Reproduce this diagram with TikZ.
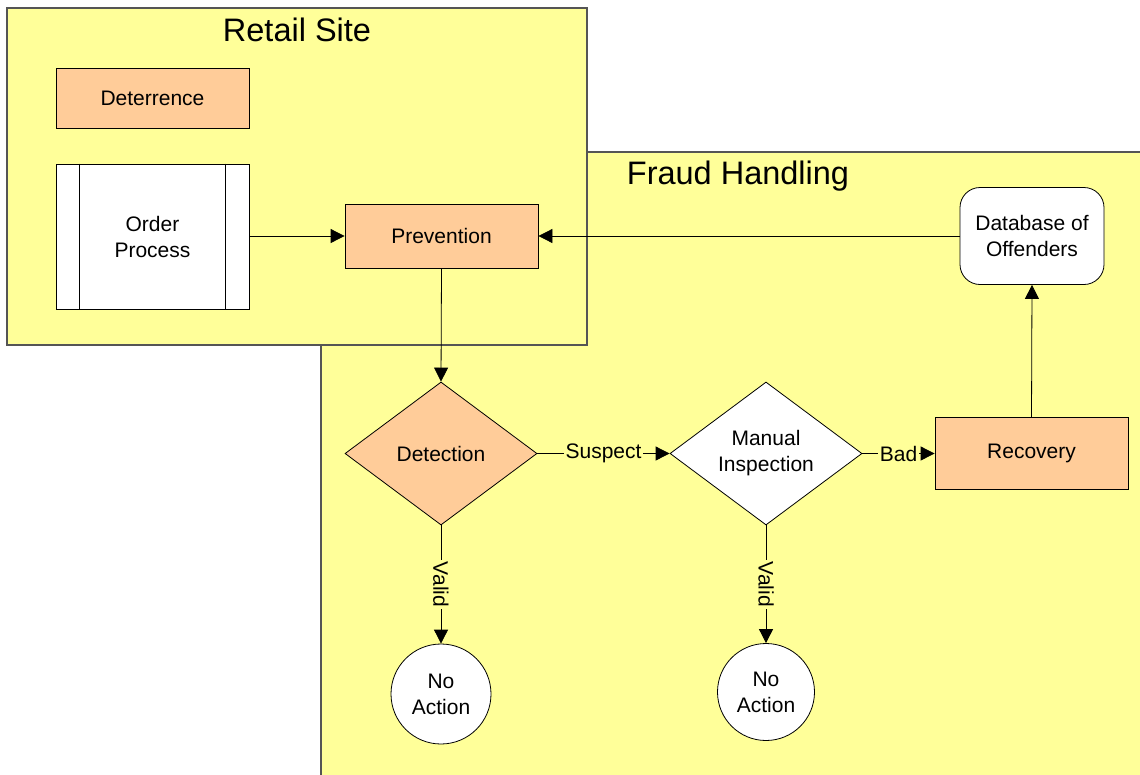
\documentclass[tikz,border=0pt]{standalone}
\usepackage{fontspec}
\setmainfont{Liberation Sans}
\usetikzlibrary{shapes.geometric,arrows.meta}
\definecolor{bgyellow}{HTML}{FFFF99}
\definecolor{boxorange}{HTML}{FFCC99}
\definecolor{frame}{HTML}{555555}
\tikzset{
  lbl/.style={font=\fontsize{21}{26}\selectfont, align=center},
  ttl/.style={font=\fontsize{32.5}{38}\selectfont},
  orangebox/.style={lbl, draw=black, line width=0.8pt, fill=boxorange, inner sep=0pt},
  whitebox/.style={lbl, draw=black, line width=0.8pt, fill=white, inner sep=0pt},
  decision/.style={lbl, diamond, draw=black, line width=0.8pt, inner sep=0pt, minimum width=192pt, minimum height=143pt},
  endcircle/.style={lbl, circle, draw=black, line width=0.8pt, fill=white, inner sep=0pt},
  conn/.style={draw=black, line width=0.8pt, -{Triangle[length=14pt,width=14pt]}},
  edgelbl/.style={lbl, fill=bgyellow, inner sep=2pt}
}
\begin{document}
\begin{tikzpicture}[x=1pt,y=-1pt]
\useasboundingbox (0,0) rectangle (1140,774);
\fill[white] (0,0) rectangle (1140,774);
% Fraud Handling container
\fill[bgyellow] (321,152) rectangle (1141,775);
\draw[frame, line width=1.2pt] (1141,152) -- (321,152) -- (321,775);
\node[ttl] (fhtitle) at (738,176) {Fraud Handling};
% Retail Site container
\filldraw[fill=bgyellow, draw=frame, line width=1.2pt] (7,8) rectangle (587,345);
\node[ttl] (rstitle) at (297,30) {Retail Site};
% Nodes
\node[orangebox, minimum width=193pt, minimum height=60pt] (det) at (152.5,98) {Deterrence};
\node[whitebox, minimum width=193pt, minimum height=145pt] (op) at (152.5,236.5) {Order\\Process};
\draw[black, line width=0.8pt] ([xshift=24pt]op.north west) -- ([xshift=24pt]op.south west);
\draw[black, line width=0.8pt] ([xshift=-24pt]op.north east) -- ([xshift=-24pt]op.south east);
\node[orangebox, minimum width=193pt, minimum height=64pt] (prev) at (441.5,236) {Prevention};
\node[whitebox, rounded corners=20pt, minimum width=144pt, minimum height=97pt] (db) at (1032,236) {Database of\\Offenders};
\node[decision, fill=boxorange] (detect) at (441,453.5) {Detection};
\node[decision, fill=white] (manual) at (766,453.5) {Manual\\Inspection};
\node[orangebox, minimum width=193pt, minimum height=72pt] (rec) at (1031.5,453.5) {Recovery};
\node[endcircle, minimum size=100pt] (na1) at (441,694) {No\\Action};
\node[endcircle, minimum size=97pt] (na2) at (766,692) {No\\Action};
% Connectors
\draw[conn] (op.east |- prev.west) -- (prev.west);
\draw[conn] (db.west) -- (prev.east);
\draw[conn] (prev.south) -- (detect.north);
\draw[conn] (rec.north) -- (db.south);
\draw[conn] (detect.east) -- node[edgelbl] {Suspect} (manual.west);
\draw[conn] (manual.east) -- node[edgelbl] {Bad} (rec.west);
\draw[conn] (detect.south) -- node[edgelbl, rotate=-90] {Valid} (na1.north);
\draw[conn] (manual.south) -- node[edgelbl, rotate=-90] {Valid} (na2.north);
\end{tikzpicture}
\end{document}
